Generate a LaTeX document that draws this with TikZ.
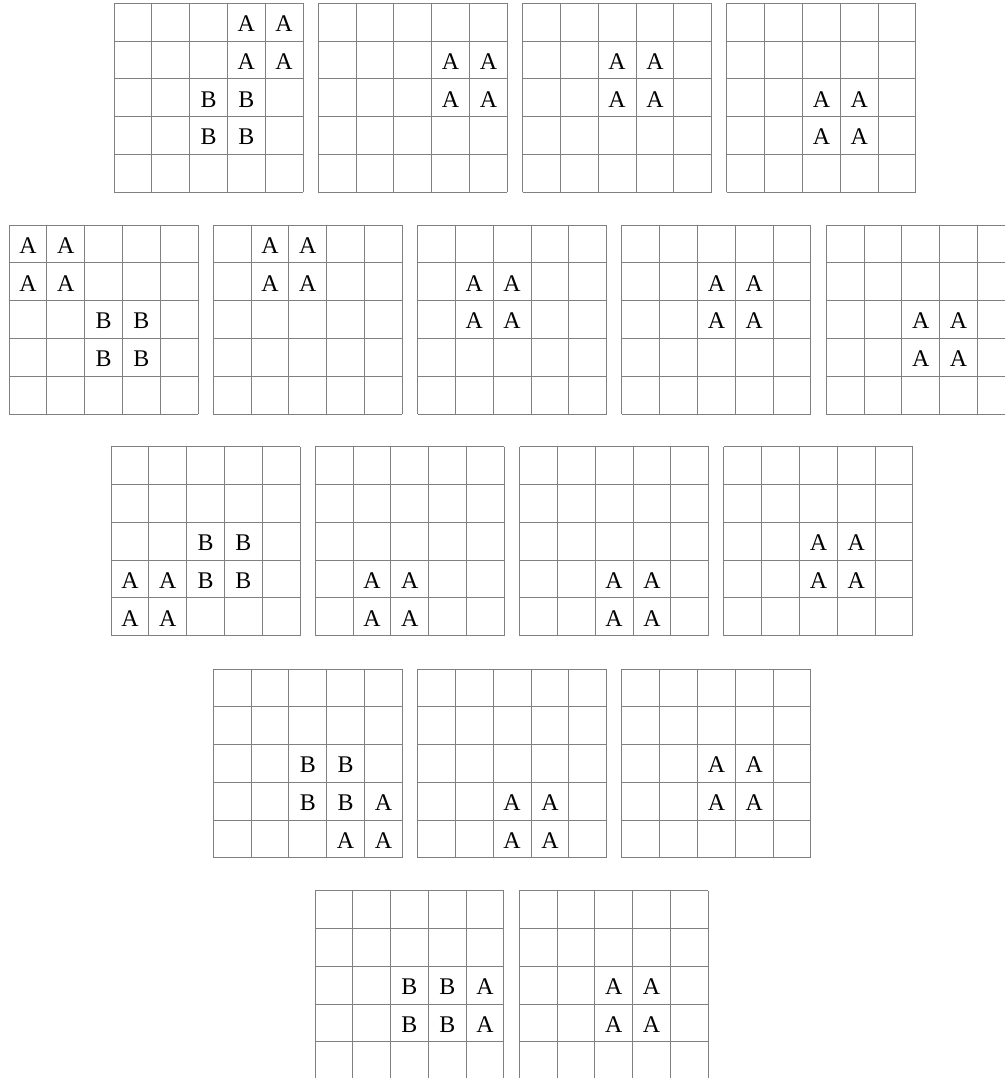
\documentclass[tikz,border=0pt]{standalone}
\usepackage{fontspec}
\setmainfont{Liberation Serif}
\tikzset{
    cellline/.style={draw=black!50, line width=0.7pt},
    letter/.style={inner sep=0pt, yshift=-0.04cm, font=\fontsize{18}{20}\selectfont},
}
\begin{document}
\begin{tikzpicture}
    \useasboundingbox (0,0) rectangle (26.587,-28.52);
    \clip (0,0) rectangle (26.587,-28.52);
    % boards: name/left/top
    \foreach \n/\gx/\gy in {p11/3.016/0.087, p12/8.421/0.087, p13/13.826/0.087, p14/19.231/0.087,
        p21/0.238/5.952, p22/5.643/5.952, p23/11.048/5.952, p24/16.453/5.952, p25/21.858/5.952,
        p31/2.937/11.817, p32/8.342/11.817, p33/13.747/11.817, p34/19.152/11.817,
        p41/5.643/17.698, p42/11.048/17.698, p43/16.453/17.698,
        p51/8.333/23.563, p52/13.738/23.563} {
        \draw[cellline, shift={(\gx,-\gy)}] (0,0) grid (5,-5);
        \coordinate (\n) at (\gx,-\gy);
    }
    % board/row/column/letter
    \foreach \g/\r/\c/\t in {
        p11/0/3/A, p11/0/4/A, p11/1/3/A, p11/1/4/A, p11/2/2/B, p11/2/3/B, p11/3/2/B, p11/3/3/B,
        p12/1/3/A, p12/1/4/A, p12/2/3/A, p12/2/4/A,
        p13/1/2/A, p13/1/3/A, p13/2/2/A, p13/2/3/A,
        p14/2/2/A, p14/2/3/A, p14/3/2/A, p14/3/3/A,
        p21/0/0/A, p21/0/1/A, p21/1/0/A, p21/1/1/A, p21/2/2/B, p21/2/3/B, p21/3/2/B, p21/3/3/B,
        p22/0/1/A, p22/0/2/A, p22/1/1/A, p22/1/2/A,
        p23/1/1/A, p23/1/2/A, p23/2/1/A, p23/2/2/A,
        p24/1/2/A, p24/1/3/A, p24/2/2/A, p24/2/3/A,
        p25/2/2/A, p25/2/3/A, p25/3/2/A, p25/3/3/A,
        p31/2/2/B, p31/2/3/B, p31/3/2/B, p31/3/3/B, p31/3/0/A, p31/3/1/A, p31/4/0/A, p31/4/1/A,
        p32/3/1/A, p32/3/2/A, p32/4/1/A, p32/4/2/A,
        p33/3/2/A, p33/3/3/A, p33/4/2/A, p33/4/3/A,
        p34/2/2/A, p34/2/3/A, p34/3/2/A, p34/3/3/A,
        p41/2/2/B, p41/2/3/B, p41/3/2/B, p41/3/3/B, p41/3/4/A, p41/4/3/A, p41/4/4/A,
        p42/3/2/A, p42/3/3/A, p42/4/2/A, p42/4/3/A,
        p43/2/2/A, p43/2/3/A, p43/3/2/A, p43/3/3/A,
        p51/2/2/B, p51/2/3/B, p51/3/2/B, p51/3/3/B, p51/2/4/A, p51/3/4/A,
        p52/2/2/A, p52/2/3/A, p52/3/2/A, p52/3/3/A} {
        \node[letter] (\g-\r\c) at ([shift={(\c+0.5,-\r-0.5)}]\g) {\t};
    }
\end{tikzpicture}
\end{document}
